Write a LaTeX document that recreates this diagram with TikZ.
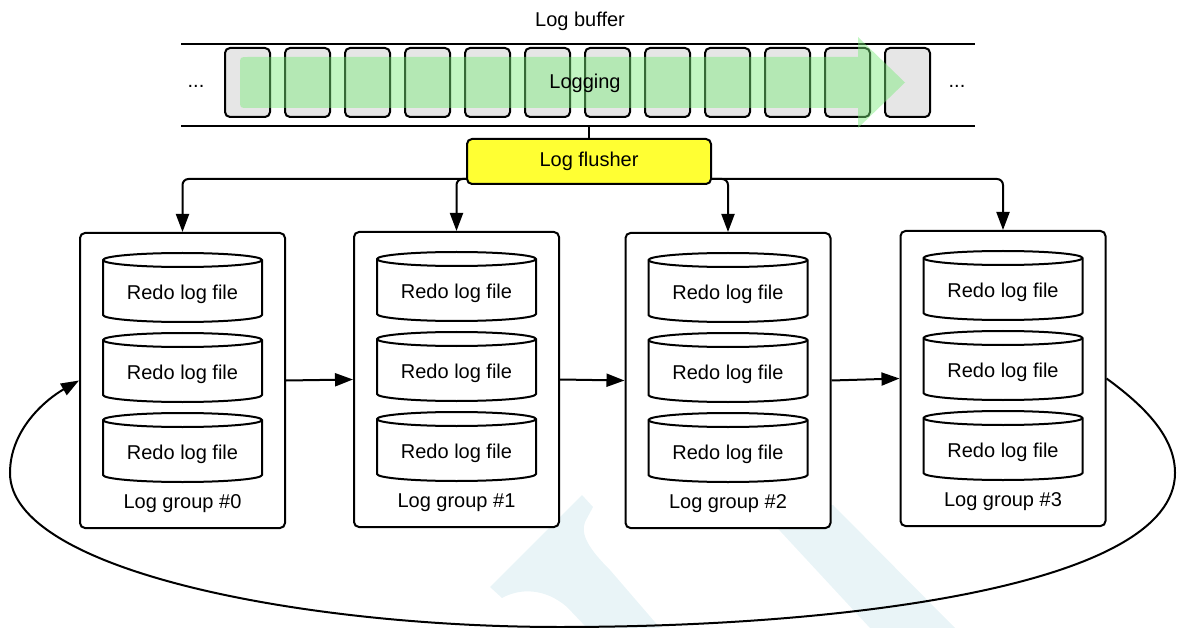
\documentclass[tikz,border=0pt]{standalone}
\usepackage{fontspec}
\setmainfont{Liberation Sans}
\usetikzlibrary{arrows.meta,calc}
\definecolor{wm}{RGB}{233,244,247}
\definecolor{cellgray}{RGB}{230,230,230}
\definecolor{flushy}{RGB}{255,255,51}
\definecolor{loggreen}{RGB}{120,235,120}
\tikzset{
  lw/.style={line width=2pt},
  lbl/.style={font=\fontsize{20}{24}\selectfont, inner sep=0pt},
  cellbox/.style={draw, line width=2pt, rounded corners=5pt, fill=cellgray,
    minimum width=45pt, minimum height=69pt, inner sep=0pt},
  groupbox/.style={draw, line width=2pt, rounded corners=5pt, fill=white,
    minimum width=205pt, minimum height=295pt, inner sep=0pt, anchor=north},
  flbox/.style={draw, line width=2pt, rounded corners=5pt, fill=flushy,
    minimum width=244pt, minimum height=45pt, inner sep=0pt,
    font=\fontsize{20}{24}\selectfont},
  arr/.style={line width=2pt, -{Triangle[length=18pt,width=13pt]}},
  cylbody/.style={line width=2pt, fill=white},
}
\begin{document}
\begin{tikzpicture}[x=1pt,y=-1pt]
\useasboundingbox (0,0) rectangle (1178,628);
% watermark
\fill[wm] (582,495) -- (490,587) -- (502,598) .. controls (520,588) and (545,588) .. (567,607)
  -- (587,628) -- (660,628) -- (610,570) .. controls (590,550) and (580,535) .. (585,522) -- (593,507) -- cycle;
\fill[wm] (756,505) -- (833,505) -- (955,628) -- (870,628) -- cycle;

% log buffer
\node[lbl] (title) at (580,21) {Log buffer};
\coordinate (tl) at (181,44); \coordinate (tr) at (975,44);
\coordinate (bl) at (181,126); \coordinate (br) at (975,126);
\draw[lw] (tl) -- (tr);
\draw[lw] (bl) -- (br);
\foreach \i in {0,...,11} {
  \node[cellbox] (cell\i) at ({247.5+60*\i},82.5) {};
}
\node[lbl, anchor=base] (dotsl) at (196,88) {...};
\node[lbl, anchor=base] (dotsr) at (957,88) {...};
\fill[loggreen, fill opacity=0.45] (858,57) -- (248,57) .. controls (240,57) .. (240,65)
  -- (240,100) .. controls (240,108) .. (248,108) -- (858,108) -- (858,128)
  -- (905,82.5) -- (858,37) -- cycle;
\node[lbl] (logging) at (585,83) {Logging};

% flusher
\node[flbox] (fl) at (589,161.5) {Log flusher};
\draw[lw] (fl.north) -- (fl.north |- bl);

% groups
\foreach \i/\cx/\gy in {0/182.5/232, 1/456.5/231, 2/728/232, 3/1003/230} {
  \node[groupbox] (g\i) at (\cx,\gy) {};
  \node[lbl] (gl\i) at (\cx,{\gy+272}) {Log group \#\i};
  \foreach \j in {0,1,2} {
    \pgfmathsetmacro\cyT{\gy+28+80*\j}
    \pgfmathsetmacro\cyB{\gy+83+80*\j}
    \draw[cylbody] ({\cx-79.5},\cyT) -- ({\cx-79.5},\cyB)
      arc[start angle=180, end angle=0, x radius=79.5, y radius=7]
      -- ({\cx+79.5},\cyT)
      arc[start angle=0, end angle=-180, x radius=79.5, y radius=7] -- cycle;
    \draw[lw] ({\cx-79.5},\cyT) arc[start angle=180, end angle=0, x radius=79.5, y radius=7];
    \node[lbl] (c\i\j) at (\cx,{\gy+62+80*\j}) {Redo log file};
  }
}

% flusher connectors
\coordinate (flL) at ($(fl.south west)+(0,-6)$);
\coordinate (flR) at ($(fl.south east)+(0,-6)$);
\draw[arr, rounded corners=6pt] (flL) -| (g0.north);
\draw[arr, rounded corners=6pt] (flL) -| (g1.north);
\draw[arr, rounded corners=6pt] (flR) -| (g2.north);
\draw[arr, rounded corners=6pt] (flR) -| (g3.north);

% group chain
\draw[arr] (g0.east) -- (g1.west);
\draw[arr] (g1.east) -- (g2.west);
\draw[arr] (g2.east) -- (g3.west);

% loop back
\draw[arr] (g3.east) .. controls (1150,410) and (1175,440) .. (1175,473)
  .. controls (1175,585) and (850,627) .. (560,627)
  .. controls (300,627) and (10,570) .. (10,473)
  .. controls (10,430) and (45,400) .. (g0.west);
\end{tikzpicture}
\end{document}
